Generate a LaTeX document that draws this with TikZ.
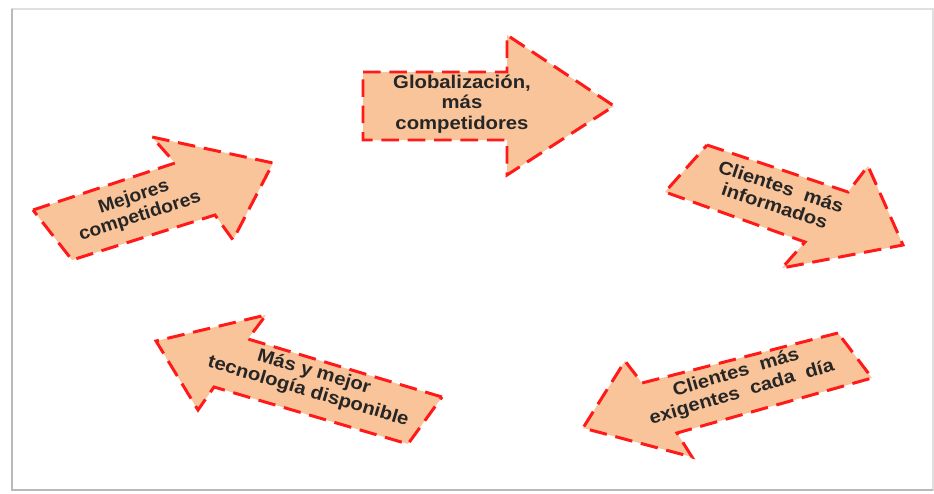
\documentclass[tikz,border=0pt]{standalone}
\usepackage{fontspec}
\setmainfont{Liberation Sans}
\usepackage{tikz}
\usetikzlibrary{positioning}
\definecolor{durazno}{RGB}{250,196,154}
\definecolor{rojo}{RGB}{255,25,25}

\begin{document}
\begin{tikzpicture}[x=0.02cm,y=-0.02cm,
  flecha/.style={fill=durazno,draw=rojo,line width=1.7pt,dash pattern=on 10pt off 5pt},
  texto/.style={align=center,inner sep=0pt,text=black!85,font=\bfseries\fontsize{10.5}{11.5}\selectfont}]
  \useasboundingbox (0,0) rectangle (934,494);
  % marco
  \draw[gray!25,line width=0.6pt] (12,9) rectangle (933,490);
  \draw[gray!55,line width=1.4pt] (12,9) -- (12,490) -- (933,490);
  % flechas
  \draw[flecha] (363,72) -- (507,72) -- (507,35) -- (614,106) -- (507,175) -- (507,140) -- (363,140) -- cycle;
  \draw[flecha] (33,210) -- (175,163) -- (152,137) -- (273,163) -- (233,240) -- (215,215) -- (72,260) -- cycle;
  \draw[flecha] (707,145) -- (848,192) -- (868,166) -- (903,245) -- (782,268) -- (805,242) -- (665,192) -- cycle;
  \draw[flecha] (442,397) -- (248,339) -- (266,315) -- (156,341) -- (198,410) -- (214,387) -- (408,444) -- cycle;
  \draw[flecha] (838,333) -- (642,383) -- (625,361) -- (583,428) -- (692,457) -- (677,433) -- (872,378) -- cycle;
  % textos
  \node[texto,xscale=1.1] (glob) at (462,104) {Globalización,\\más\\competidores};
  \node[texto,rotate=-18.4,xscale=1.1] (informados) at (778,196) {Clientes\ \ más\\informados};
  \node[texto,rotate=16.4,xscale=1.1] (exigentes) at (739,383) {Clientes\ \ más\\exigentes\ \ cada\ \ día};
  \node[texto,rotate=-16.5,xscale=1.1] (tecnologia) at (311,382) {Más y mejor\\tecnología disponible};
  \node[texto,rotate=18,xscale=1.05] (mejores) at (137,207) {Mejores\\competidores};
\end{tikzpicture}
\end{document}
